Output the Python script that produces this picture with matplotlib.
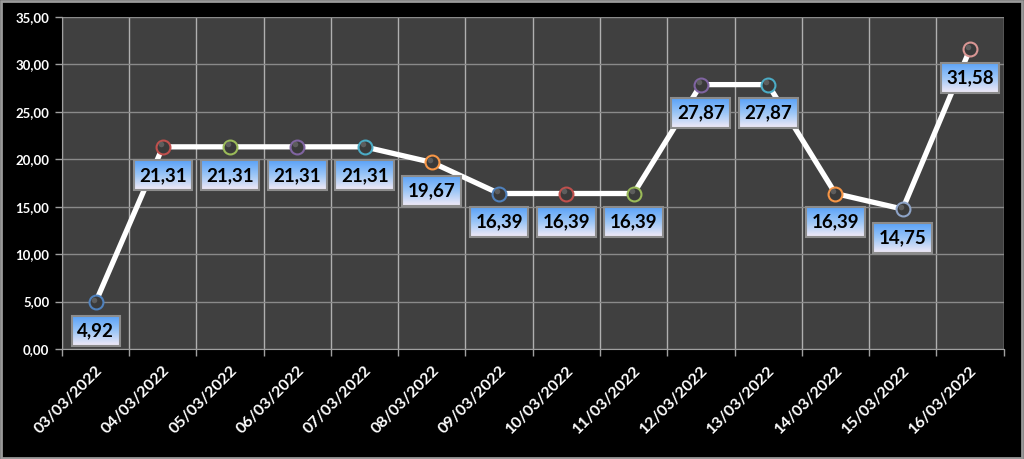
import numpy as np
import matplotlib
matplotlib.use("Agg")
import matplotlib.pyplot as plt
from matplotlib.colors import LinearSegmentedColormap

dates = ["03/03/2022", "04/03/2022", "05/03/2022", "06/03/2022", "07/03/2022",
         "08/03/2022", "09/03/2022", "10/03/2022", "11/03/2022", "12/03/2022",
         "13/03/2022", "14/03/2022", "15/03/2022", "16/03/2022"]
values = [4.92, 21.31, 21.31, 21.31, 21.31, 19.67, 16.39, 16.39, 16.39,
          27.87, 27.87, 16.39, 14.75, 31.58]
marker_edges = ["#4f81bd", "#c0504d", "#9bbb59", "#8064a2", "#4bacc6", "#f79646",
                "#4f81bd", "#c0504d", "#9bbb59", "#8064a2", "#4bacc6", "#f79646",
                "#8ea4c8", "#d99694"]
y_ticks = [0, 5, 10, 15, 20, 25, 30, 35]

def fmt(v, nd):
    return f"{v:.{nd}f}".replace(".", ",")

fig = plt.figure(figsize=(10.24, 4.59), dpi=100, facecolor="black")
ax = fig.add_axes([0.0605, 0.2397, 0.9195, 0.7233])
ax.set_facecolor("#404040")

x = np.arange(len(values))
ax.plot(x, values, color="white", lw=3.8, zorder=3, solid_capstyle="round")
for xi, v, ec in zip(x, values, marker_edges):
    ax.plot(xi, v, marker="o", ms=10, mfc="#3a3a3a", mec=ec, mew=1.5, zorder=4)
    ax.plot(xi - 0.03, v + 0.25, marker="o", ms=4, mfc="#666666", mec="none", zorder=4, alpha=0.8)

ax.set_xlim(-0.5, len(values) - 0.5)
ax.set_ylim(0, 35)
ax.set_yticks(y_ticks)
ax.set_yticklabels([fmt(v, 2) for v in y_ticks])
ax.set_xticks(x)
ax.set_xticklabels(dates, rotation=45, ha="right", rotation_mode="anchor")
ax.set_xticks(np.arange(len(values) + 1) - 0.5, minor=True)

ax.tick_params(axis="x", which="major", length=0, pad=10, labelsize=11.5, labelcolor="white")
ax.tick_params(axis="x", which="minor", length=5, color="#a0a0a0", width=1)
ax.tick_params(axis="y", length=5, color="#a0a0a0", width=1, labelsize=9.5, labelcolor="white", pad=4)
for lab in ax.get_xticklabels() + ax.get_yticklabels():
    lab.set_fontweight("bold")
    lab.set_family(["Lato", "DejaVu Sans"])

ax.grid(axis="y", color="#8a8a8a", lw=1)
ax.grid(axis="x", which="minor", color="#b0b0b0", lw=1)
ax.set_axisbelow(True)
for s in ["top", "right"]:
    ax.spines[s].set_visible(False)
ax.spines["left"].set_color("#a0a0a0")
ax.spines["bottom"].set_color("#a0a0a0")

texts = []
for xi, v in zip(x, values):
    t = ax.annotate(fmt(v, 2), (xi, v), xytext=(0, -19.5), textcoords="offset points",
                    ha="center", va="center_baseline", fontsize=13.5, fontweight="bold",
                    family=["Lato", "DejaVu Sans"], color="black", zorder=7)
    texts.append(t)

fig.canvas.draw()
cmap = LinearSegmentedColormap.from_list("g", ["#5aa2f8", "#9cc6f6", "#f2eaf6"])
grad = np.linspace(0, 1, 64).reshape(-1, 1)
inv = ax.transData.inverted()
for t in texts:
    bb = t.get_window_extent()
    cx = 0.5 * (bb.x0 + bb.x1)
    cy = 0.5 * (bb.y0 + bb.y1)
    w = (bb.x1 - bb.x0) + 11
    h = 30
    (x0, y0) = inv.transform((cx - w / 2, cy - h / 2))
    (x1, y1) = inv.transform((cx + w / 2, cy + h / 2))
    ax.imshow(grad[::-1], cmap=cmap, extent=(x0, x1, y0, y1), origin="lower",
              aspect="auto", zorder=6, interpolation="bilinear")
    ax.add_patch(plt.Rectangle((x0, y0), x1 - x0, y1 - y0, fill=False,
                               ec="#8c8c8c", lw=1.5, zorder=6.5))
ax.set_xlim(-0.5, len(values) - 0.5)
ax.set_ylim(0, 35)

# outer border
fig.patches.append(plt.Rectangle((0.001, 0.002), 0.997, 0.995, transform=fig.transFigure,
                                 fill=False, ec="#9a9a9a", lw=2))

fig.savefig("out.png", dpi=100, facecolor="black")
